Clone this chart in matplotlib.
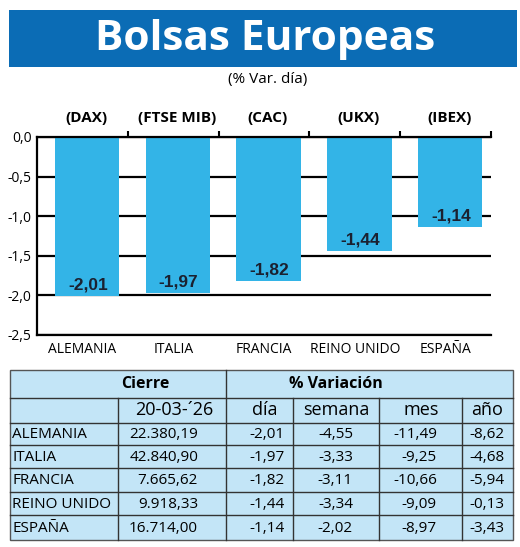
import numpy as np
import matplotlib
matplotlib.use("Agg")
import matplotlib.pyplot as plt
from matplotlib.patches import Rectangle

# chart data
countries = ["ALEMANIA", "ITALIA", "FRANCIA", "REINO UNIDO", "ESPAÑA"]
indices = ["(DAX)", "(FTSE MIB)", "(CAC)", "(UKX)", "(IBEX)"]
var_dia = [-2.01, -1.97, -1.82, -1.44, -1.14]
y_ticks = [0.0, -0.5, -1.0, -1.5, -2.0, -2.5]

# table data
fecha = "20-03-´26"
cierre = ["22.380,19", "42.840,90", "7.665,62", "9.918,33", "16.714,00"]
var_semana = [-4.55, -3.33, -3.11, -3.34, -2.02]
var_mes = [-11.49, -9.25, -10.66, -9.09, -8.97]
var_anio = [-8.62, -4.68, -5.94, -0.13, -3.43]

W, H = 520, 547
BANNER = "#0b6cb5"
BAR = "#33b4e7"
TABLE_BG = "#c3e5f7"
DARK = "#1b2130"
FONT = "Open Sans"


def fmt(v):
    return f"{v:.2f}".replace(".", ",")


fig = plt.figure(figsize=(W / 100, H / 100), dpi=100)
fig.patch.set_facecolor("white")

# overlay axes in pixel coordinates (y down)
ov = fig.add_axes([0, 0, 1, 1])
ov.set_xlim(0, W)
ov.set_ylim(H, 0)
ov.axis("off")

# banner
ov.add_patch(Rectangle((9, 10), 508, 57, color=BANNER, lw=0))
ov.text(265, 39, "Bolsas Europeas", color="white", fontsize=30.5, fontweight="bold",
        family=FONT, ha="center", va="center")
ov.text(268, 80, "(% Var. día)", fontsize=11, family=FONT, ha="center", va="center")

# bar chart
x0, x1, ytop, ybot = 37, 491, 137, 335
ax = fig.add_axes([x0 / W, (H - ybot) / H, (x1 - x0) / W, (ybot - ytop) / H])
xs = np.arange(len(countries))
ax.set_axisbelow(True)
ax.bar(xs + 0.05, var_dia, width=0.71, color=BAR, zorder=2)
for x, v in zip(xs, var_dia):
    ax.text(x + 0.06, v + 0.14, fmt(v), ha="center", va="center", fontsize=12.5,
            fontweight="bold", color=DARK, family="Liberation Sans", zorder=3)
for x, lab in zip(xs, indices):
    ax.annotate(lab, xy=(x + 0.04, 1), xycoords=("data", "axes fraction"),
                xytext=(0, 14), textcoords="offset points", ha="center", va="center",
                fontsize=11, fontweight="bold", family=FONT)
ax.set_xlim(-0.5, 4.5)
ax.set_ylim(-2.5, 0)
ax.set_yticks(y_ticks)
ax.set_yticklabels([f"{t:.1f}".replace(".", ",") for t in y_ticks], family=FONT, fontsize=10)
ax.set_xticks(xs)
ax.set_xticklabels(countries, family=FONT, fontsize=10)
ax.set_xticks(xs + 0.5, minor=True)
ax.tick_params(axis="x", which="major", length=0, pad=5)
ax.tick_params(axis="x", which="minor", bottom=False, top=True, length=4, width=1.5)
ax.tick_params(axis="y", length=0, pad=4)
ax.yaxis.grid(True, color="black", lw=1.6)
for s in ["left", "bottom", "top"]:
    ax.spines[s].set_linewidth(1.6)
ax.spines["right"].set_visible(False)

# table
tx0, tx1 = 10, 513
ty0, ty_h1, ty_h2 = 370, 398, 423
row_bottoms = [445, 468, 492, 515, 540]
ov.add_patch(Rectangle((tx0, ty0), tx1 - tx0, row_bottoms[-1] - ty0,
                       facecolor=TABLE_BG, edgecolor="#555555", lw=1))
ov.plot([tx0, tx1], [ty_h1, ty_h1], color="#333333", lw=1)
ov.plot([tx0, tx1], [ty_h2, ty_h2], color="#333333", lw=1)
for yb in row_bottoms[:-1]:
    ov.plot([tx0, tx1], [yb, yb], color="#333333", lw=1)
ov.plot([226, 226], [ty0, row_bottoms[-1]], color="#333333", lw=1)
for xv in [118, 293, 379, 462]:
    ov.plot([xv, xv], [ty_h1, row_bottoms[-1]], color="#333333", lw=1)

ov.text(145, 384, "Cierre", fontsize=11.5, fontweight="bold", family=FONT, ha="center", va="center")
ov.text(336, 384, "% Variación", fontsize=11.5, fontweight="bold", family=FONT, ha="center", va="center")
hdr_y = 410
ov.text(174, hdr_y, fecha, fontsize=13, family=FONT, ha="center", va="center")
ov.text(265, hdr_y, "día", fontsize=13, family=FONT, ha="center", va="center")
ov.text(336, hdr_y, "semana", fontsize=13, family=FONT, ha="center", va="center")
ov.text(421, hdr_y, "mes", fontsize=13, family=FONT, ha="center", va="center")
ov.text(487, hdr_y, "año", fontsize=13, family=FONT, ha="center", va="center")

row_tops = [ty_h2] + row_bottoms[:-1]
for i, c in enumerate(countries):
    ym = (row_tops[i] + row_bottoms[i]) / 2 + 1
    ov.text(12, ym, c, fontsize=11, family=FONT, ha="left", va="center")
    ov.text(198, ym, cierre[i], fontsize=11, family=FONT, ha="right", va="center")
    ov.text(285, ym, fmt(var_dia[i]), fontsize=11, family=FONT, ha="right", va="center")
    ov.text(353, ym, fmt(var_semana[i]), fontsize=11, family=FONT, ha="right", va="center")
    ov.text(437, ym, fmt(var_mes[i]), fontsize=11, family=FONT, ha="right", va="center")
    ov.text(504, ym, fmt(var_anio[i]), fontsize=11, family=FONT, ha="right", va="center")

fig.savefig("out.png", dpi=100)
